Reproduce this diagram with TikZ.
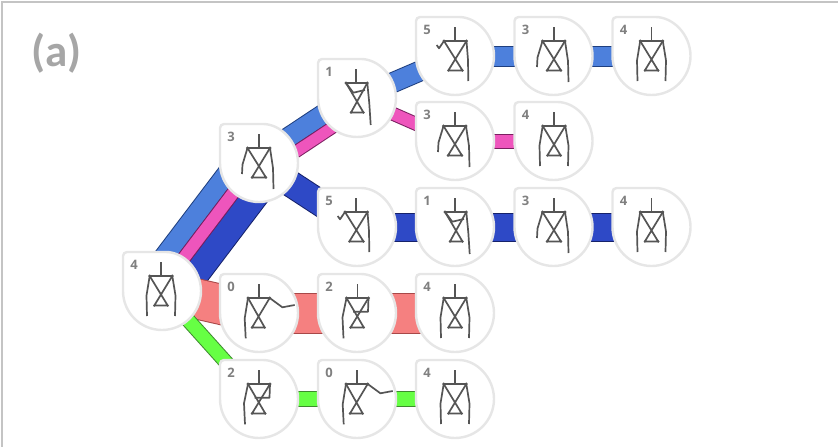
\documentclass[tikz,border=0pt]{standalone}
\usepackage{fontspec}
\setmainfont{Carlito}
\newfontfamily\labelfont{Open Sans}
\usetikzlibrary{calc,backgrounds}
\definecolor{framegray}{HTML}{C4C4C4}
\definecolor{titlegray}{HTML}{A6A6A6}
\definecolor{digitgray}{HTML}{808080}
\definecolor{ringgray}{HTML}{E6E6E6}
\definecolor{limbgray}{HTML}{555555}
\definecolor{bandblue}{HTML}{4D80DC}
\definecolor{edgeblue}{HTML}{1F3F7F}
\definecolor{bandpink}{HTML}{EE55BC}
\definecolor{edgepink}{HTML}{7A1F60}
\definecolor{banddark}{HTML}{2E49C6}
\definecolor{edgedark}{HTML}{16226A}
\definecolor{bandred}{HTML}{F58080}
\definecolor{edgered}{HTML}{A84848}
\definecolor{bandgreen}{HTML}{66FF44}
\definecolor{edgegreen}{HTML}{3E8A2E}
\tikzset{
  limb/.style={draw=limbgray,line width=1.7pt,line join=round},
  keyjoint/.style={fill=limbgray},
  ringanchor/.style={circle,minimum size=78pt,inner sep=0pt,outer sep=0pt},
  ring/.style={draw=ringgray,line width=2.4pt,fill=white},
  digit/.style={text=digitgray,font=\labelfont\bfseries\fontsize{13}{14}\selectfont,inner sep=0pt},
  ribbonline/.style={line width=1pt},
}
% trunk: left shoulder, right shoulder, left hip, right hip
\newcommand\trunk[4]{%
  \draw[limb] (0,-29) -- (0,-15);
  \draw[limb] (#1,-15) -- (#2,-15) -- (#3,14.5) -- (#4,14.5) -- cycle;
  \fill[keyjoint] (#1,-15) circle (1.6pt) (#2,-15) circle (1.6pt) (#3,14.5) circle (1.3pt) (#4,14.5) circle (1.3pt);
}
\newcommand\poseRest{%
  \trunk{-11.3}{11.3}{-6.7}{6.7}
  \draw[limb] (-11.3,-15) -- (-14.5,4.5) -- (-14,25);
  \draw[limb] (11.3,-15) -- (14.5,4.5) -- (14,25);
}
\newcommand\poseThree{%
  \trunk{-11.5}{11}{-7}{7}
  \draw[limb] (-11.5,-15) -- (-16.5,1.5) -- (-17,11);
  \draw[limb] (11,-15) -- (14,5) -- (14.5,26);
}
\newcommand\poseFive{%
  \trunk{-11}{11.5}{-6.7}{7.5}
  \draw[limb] (-11,-15) -- (-16,-7.7) -- (-18.3,-11);
  \draw[limb] (11.5,-15) -- (13,4) -- (13.3,25);
}
\newcommand\poseOne{%
  \trunk{-10}{11.3}{-5}{7.5}
  \draw[limb] (-10,-15) -- (-2.7,-5.3) -- (9,-8);
  \draw[limb] (11.3,-15) -- (13.3,5.3) -- (14.7,27);
}
\newcommand\poseTwo{%
  \trunk{-11}{11}{-7}{6.3}
  \draw[limb] (-11,-15) -- (-15,4.3) -- (-14,25.3);
  \draw[limb] (11,-15) -- (10.5,-1.3) -- (-4.3,-1.3);
}
\newcommand\poseZero{%
  \trunk{-11}{10.7}{-7}{5.7}
  \draw[limb] (-11,-15) -- (-14.3,5.3) -- (-13.3,25.3);
  \draw[limb] (10.7,-15) -- (23.4,-5.7) -- (35.7,-8);
}
% \posenode{name}{x}{y}{digit}{pose macro}{body offset}
\newcommand\posenode[6]{%
  \node[ringanchor] (#1) at (#2,#3) {};
  \draw[ring] (#1.west) [rounded corners=4pt] |- (#1.north) [sharp corners] arc[start angle=90,end angle=-180,radius=39pt] -- cycle;
  \node[digit] (#1d) at ($(#1)+(-28,-26.5)$) {#4};
  \begin{scope}[shift={(#2+#6,#3)}] #5 \end{scope}
}
% \ribbon{from}{to}{offset to the right of travel}{width}{fill}{edge}
\newcommand\ribbon[6]{%
  \draw[ribbonline,draw=#6,double=#5,double distance=#4pt]
    ($(#1)!#3pt!-90:(#2)$) -- ($(#2)!#3pt!90:(#1)$);
}
\begin{document}
\begin{tikzpicture}[x=1pt,y=-1pt]
\useasboundingbox (0,0) rectangle (838,447);
\posenode{root}{162}{291}{4}{\poseRest}{-1}
\posenode{a}{259}{163}{3}{\poseThree}{0}
\posenode{b}{357}{98}{1}{\poseOne}{-1}
\posenode{c}{455}{56}{5}{\poseFive}{0}
\posenode{d}{553.5}{56}{3}{\poseThree}{0.5}
\posenode{e}{651.5}{56}{4}{\poseRest}{0}
\posenode{f}{455}{141}{3}{\poseThree}{0}
\posenode{g}{553.5}{141}{4}{\poseRest}{0.5}
\posenode{h}{357}{227}{5}{\poseFive}{-1}
\posenode{i}{455}{227}{1}{\poseOne}{0}
\posenode{j}{553.5}{227}{3}{\poseThree}{0.5}
\posenode{k}{651.5}{227}{4}{\poseRest}{0}
\posenode{l}{259}{313}{0}{\poseZero}{0}
\posenode{m}{357}{313}{2}{\poseTwo}{0.5}
\posenode{n}{455}{313}{4}{\poseRest}{0}
\posenode{o}{259}{399}{2}{\poseTwo}{0}
\posenode{p}{357}{399}{0}{\poseZero}{0}
\posenode{q}{455}{399}{4}{\poseRest}{0}
\node[text=titlegray,font=\bfseries\fontsize{45}{47}\selectfont,inner sep=0pt] (title) at (56.5,53) {(a)};
\begin{pgfonlayer}{background}
  \draw[framegray,line width=1.6pt] (2,447) -- (2,2) -- (838,2);
  \ribbon{root}{a}{-19}{19}{bandblue}{edgeblue}
  \ribbon{root}{a}{17}{25}{banddark}{edgedark}
  \ribbon{root}{a}{-2.5}{12}{bandpink}{edgepink}
  \ribbon{a}{b}{-5}{19}{bandblue}{edgeblue}
  \ribbon{a}{b}{11}{11}{bandpink}{edgepink}
  \ribbon{b}{c}{0}{19}{bandblue}{edgeblue}
  \ribbon{c}{d}{0}{19}{bandblue}{edgeblue}
  \ribbon{d}{e}{0}{19}{bandblue}{edgeblue}
  \ribbon{b}{f}{0}{12}{bandpink}{edgepink}
  \ribbon{f}{g}{0}{13}{bandpink}{edgepink}
  \ribbon{a}{h}{0}{25}{banddark}{edgedark}
  \ribbon{h}{i}{0}{27}{banddark}{edgedark}
  \ribbon{i}{j}{0}{27}{banddark}{edgedark}
  \ribbon{j}{k}{0}{27}{banddark}{edgedark}
  \ribbon{root}{l}{0}{39}{bandred}{edgered}
  \ribbon{l}{m}{0}{39}{bandred}{edgered}
  \ribbon{m}{n}{0}{39}{bandred}{edgered}
  \ribbon{root}{o}{0}{13}{bandgreen}{edgegreen}
  \ribbon{o}{p}{0}{14}{bandgreen}{edgegreen}
  \ribbon{p}{q}{0}{14}{bandgreen}{edgegreen}
\end{pgfonlayer}
\end{tikzpicture}
\end{document}
